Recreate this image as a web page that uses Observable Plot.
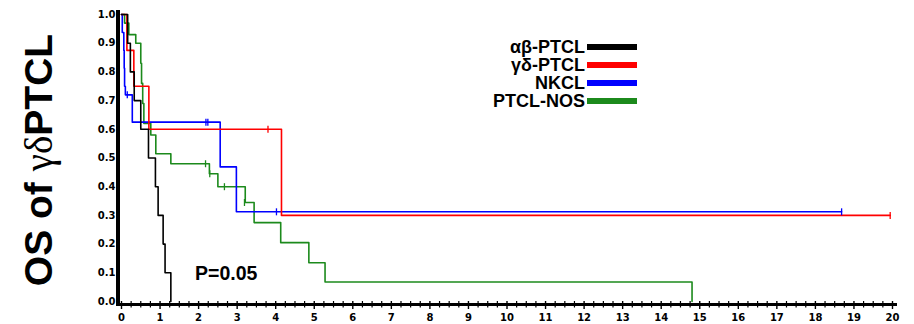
<!DOCTYPE html>
<html><head><meta charset="utf-8">
<script src="https://cdn.jsdelivr.net/npm/d3@7"></script>
<script src="https://cdn.jsdelivr.net/npm/@observablehq/plot@0.6"></script>
<style>
body{margin:0;background:#fff;}
#wrap{position:relative;width:914px;height:324px;overflow:hidden;}
#ytitle{position:absolute;left:38px;top:160px;transform:translate(-50%,-50%) rotate(-90deg);font:bold 39px "Liberation Sans",Arial,sans-serif;white-space:nowrap;line-height:1;}
#ytitle .g{font-family:"Liberation Serif",serif;font-weight:normal;}
.lg{position:absolute;font:bold 18px "Liberation Sans",Arial,sans-serif;line-height:16px;white-space:nowrap;text-align:right;}
.lb{position:absolute;height:6px;}
#pval{position:absolute;left:195px;top:264px;font:bold 19.5px "Liberation Sans",Arial,sans-serif;line-height:19.5px;}
</style></head>
<body>
<div id="wrap"></div>
<script>
// Series names and colours
const seriesNames = ["αβ-PTCL", "γδ-PTCL", "NKCL", "PTCL-NOS"];
const seriesColors = ["#000000", "#ff0000", "#0000ff", "#1c8a1c"];

// Kaplan-Meier steps (time in years, survival after event)
const abTime = [0, 0.16, 0.23, 0.33, 0.50, 0.70, 0.88, 0.95, 1.08, 1.13, 1.28];
const abSurv = [1, 0.9, 0.8, 0.7, 0.6, 0.5, 0.4, 0.3, 0.2, 0.1, 0.0];

const gdTime = [0, 0.14, 0.32, 0.71, 4.15, 19.94];
const gdSurv = [1, 0.875, 0.75, 0.6, 0.3, 0.3];

const nkTime = [0, 0.02, 0.06, 0.07, 0.08, 0.10, 0.28, 2.56, 2.98, 18.68];
const nkSurv = [1, 0.9375, 0.875, 0.8125, 0.75, 0.72, 0.625, 0.469, 0.3125, 0.3125];

const nosTime = [0, 0.08, 0.19, 0.37, 0.50, 0.52, 0.55, 0.58, 0.76, 0.89, 1.28, 2.28, 2.50, 3.21, 3.44, 4.13, 4.86, 5.28, 14.80];
const nosSurv = [1, 0.97, 0.93, 0.90, 0.83, 0.76, 0.69, 0.62, 0.58, 0.515, 0.48, 0.445, 0.40, 0.345, 0.275, 0.205, 0.135, 0.068, 0];

// Censor marks
const gdCensT = [3.80, 19.94];
const gdCensS = [0.6, 0.3];
const nkCensT = [0.15, 2.19, 2.24, 4.02, 18.68];
const nkCensS = [0.72, 0.625, 0.625, 0.3125, 0.3125];
const nosCensT = [2.18, 2.29, 2.67, 3.19];
const nosCensS = [0.48, 0.445, 0.40, 0.345];

// Axis ticks
const yTicks = [0, 0.1, 0.2, 0.3, 0.4, 0.5, 0.6, 0.7, 0.8, 0.9, 1.0];
const xTicks = d3.range(0, 21);
const xMinor = d3.range(0, 80).map(i => i * 0.25).filter(v => v % 1 !== 0);

const pText = "P=0.05";
const yTitle = ["OS of ", "γδ", "PTCL"];

const curves = [[abTime, abSurv], [gdTime, gdSurv], [nkTime, nkSurv], [nosTime, nosSurv]];
const lineRows = [];
curves.forEach(([t, s], i) => t.forEach((v, j) => lineRows.push({series: seriesNames[i], time: v, surv: s[j]})));
const censRows = [];
[[null, null], [gdCensT, gdCensS], [nkCensT, nkCensS], [nosCensT, nosCensS]].forEach(([t, s], i) => {
  if (t) t.forEach((v, j) => censRows.push({series: seriesNames[i], time: v, surv: s[j]}));
});
const drawOrder = ["PTCL-NOS", "NKCL", "γδ-PTCL", "αβ-PTCL"];
lineRows.sort((a, b) => drawOrder.indexOf(a.series) - drawOrder.indexOf(b.series));

const tickSymbol = {draw(ctx, size) { const r = Math.sqrt(size / Math.PI); ctx.moveTo(0, -r); ctx.lineTo(0, r); }};

const chart = Plot.plot({
  width: 914, height: 324,
  marginLeft: 121, marginRight: 22, marginTop: 14, marginBottom: 23,
  style: {fontFamily: "DejaVu Sans", fontWeight: "bold", fontSize: "10px", background: "white"},
  x: {domain: [0, 20]},
  y: {domain: [0, 1]},
  color: {domain: seriesNames, range: seriesColors},
  marks: [
    Plot.axisX({ticks: xMinor, tickSize: 6.5, tickFormat: () => "", strokeWidth: 1.2, label: null}),
    Plot.axisX({ticks: xTicks, tickSize: 8, tickPadding: 4, tickFormat: d => String(d), strokeWidth: 1.4, label: null}),
    Plot.axisY({ticks: yTicks, tickSize: 0, tickPadding: 6, tickFormat: d3.format(".1f"), label: null}),
    Plot.line(lineRows, {x: "time", y: "surv", z: "series", stroke: "series", curve: "step-after", strokeWidth: 1.6}),
    Plot.dot(censRows, {x: "time", y: "surv", stroke: "series", fill: "none", symbol: tickSymbol, r: 3.5, strokeWidth: 1.3}),
    Plot.ruleY([0], {dy: 3, strokeWidth: 3, insetLeft: -5, insetRight: -5}),
    Plot.ruleX([0], {dx: -3.5, strokeWidth: 4, insetTop: -4, insetBottom: -4})
  ]
});
const wrap = document.getElementById("wrap");
wrap.appendChild(chart);

// Y title
const yt = document.createElement("div");
yt.id = "ytitle";
yt.innerHTML = `${yTitle[0]}<span class="g">${yTitle[1]}</span>${yTitle[2]}`;
wrap.appendChild(yt);

// Legend
seriesNames.forEach((name, i) => {
  const cy = 46.5 + i * 18;
  const t = document.createElement("div");
  t.className = "lg";
  t.textContent = name;
  t.style.right = (914 - 585) + "px";
  t.style.top = (cy - 7.8) + "px";
  wrap.appendChild(t);
  const b = document.createElement("div");
  b.className = "lb";
  b.style.left = "587px";
  b.style.width = "50px";
  b.style.top = (cy - 3) + "px";
  b.style.background = seriesColors[i];
  wrap.appendChild(b);
});

const p = document.createElement("div");
p.id = "pval";
p.textContent = pText;
wrap.appendChild(p);
</script>
</body></html>
